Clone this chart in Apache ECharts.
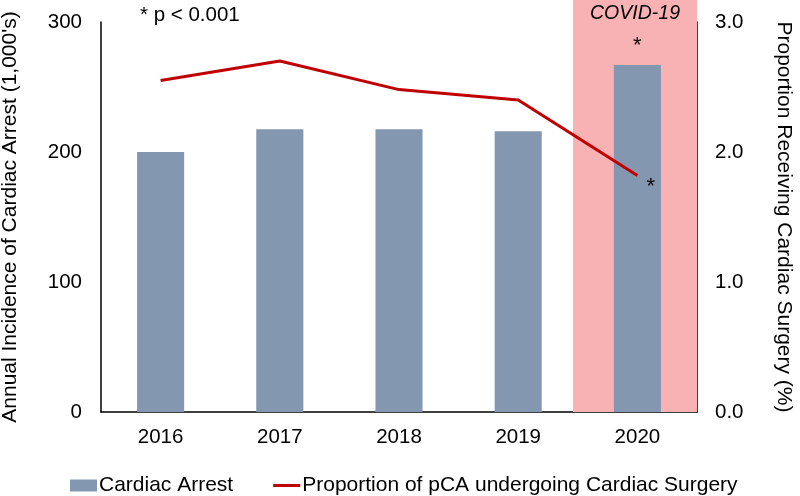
<!DOCTYPE html>
<html><head><meta charset="utf-8">
<script src="https://cdn.jsdelivr.net/npm/echarts@6/dist/echarts.min.js"></script>
<style>html,body{margin:0;padding:0;background:#fff}#c{width:800px;height:496px}</style>
</head><body><div id="c"></div>
<script>
const years = ['2016','2017','2018','2019','2020'];
const cardiacArrest = [200, 217.5, 217.5, 216, 267];
const proportionSurgery = [2.55, 2.70, 2.48, 2.40, 1.82];
const leftTicks = [0, 100, 200, 300];
const rightTicks = [0, 1, 2, 3];
const covidSpan = [3.96, 5];

const FONT = 'Liberation Sans, Arial, sans-serif';
const TICK = 20.5;
const chart = echarts.init(document.getElementById('c'), null, {renderer:'canvas'});
chart.setOption({
  animation: false,
  textStyle: {fontFamily: FONT, color: '#000'},
  grid: {left: 101, right: 103, top: 22, bottom: 84, outerBoundsMode: 'none', containLabel: false},
  legend: {
    left: 70, top: 475, padding: 0, itemWidth: 27, itemHeight: 12, itemGap: 40,
    textStyle: {fontSize: 21, color: '#000', fontFamily: FONT, padding: [0,0,0,-3]},
    data: [{name: 'Cardiac Arrest', icon: 'rect'}, {name: 'Proportion of pCA undergoing Cardiac Surgery', icon: 'path://M0,0L27,0L27,3L0,3Z'}]
  },
  xAxis: [{
    type: 'category', data: years, boundaryGap: true,
    axisLine: {lineStyle: {color: '#000', width: 1.5}},
    axisTick: {show: false},
    axisLabel: {fontSize: TICK, color: '#000', margin: 15}
  }, {
    type: 'value', min: 0, max: 5, show: false
  }],
  yAxis: [{
    type: 'value', min: leftTicks[0], max: leftTicks[leftTicks.length-1], interval: 100,
    name: "Annual Incidence of Cardiac Arrest (1,000's)", nameLocation: 'middle', nameGap: 80,
    nameTextStyle: {fontSize: 21, color: '#000'},
    axisLine: {show: true, lineStyle: {color: '#000', width: 1.5}},
    axisTick: {show: false}, splitLine: {show: false},
    axisLabel: {fontSize: TICK, color: '#000', margin: 19}
  }, {
    type: 'value', min: rightTicks[0], max: rightTicks[rightTicks.length-1], interval: 1,
    name: 'Proportion Receiving Cardiac Surgery (%)', nameLocation: 'middle', nameGap: 76, nameRotate: -90,
    nameTextStyle: {fontSize: 21, color: '#000'},
    axisLine: {show: true, lineStyle: {color: '#000', width: 1.5}},
    axisTick: {show: false}, splitLine: {show: false},
    axisLabel: {fontSize: TICK, color: '#000', margin: 18, formatter: v => v.toFixed(1)}
  }],
  series: [{
    type: 'custom', xAxisIndex: 1, yAxisIndex: 0, z: 1, silent: true, clip: false,
    data: [covidSpan],
    renderItem: function(params, api) {
      const p0 = api.coord([api.value(0), 0]);
      const p1 = api.coord([api.value(1), 0]);
      return {type: 'rect', shape: {x: p0[0], y: 0, width: p1[0]-p0[0], height: p0[1]}, style: {fill: '#F8B2B4'}};
    }
  }, {
    name: 'Cardiac Arrest', type: 'bar', z: 2, barWidth: '39.5%',
    itemStyle: {color: '#8497B0'},
    data: cardiacArrest.map((v,i) => i === 4 ? {value: v, label: {show: true, position: 'top', formatter: '*', fontSize: 22, distance: 8, color: '#000'}} : v)
  }, {
    name: 'Proportion of pCA undergoing Cardiac Surgery', type: 'line', yAxisIndex: 1, z: 3,
    symbol: 'none', lineStyle: {color: '#C00000', width: 3}, itemStyle: {color: '#C00000'},
    data: proportionSurgery,
    markPoint: {
      symbol: 'circle', symbolSize: 0, silent: true,
      label: {show: true, formatter: '*', fontSize: 22, color: '#000', position: 'right', offset: [4, 12]},
      data: [{coord: [years[4], proportionSurgery[4]]}]
    }
  }],
  graphic: [{
    type: 'text', left: 140, top: 5, z: 10,
    style: {text: '* p < 0.001', fontSize: TICK, fontFamily: FONT, fill: '#000'}
  }, {
    type: 'text', x: 635, y: 14, z: 10,
    style: {text: 'COVID-19', fontSize: 19.5, fontStyle: 'italic', fontFamily: FONT, fill: '#000', align: 'center', verticalAlign: 'middle'}
  }]
});
</script></body></html>
